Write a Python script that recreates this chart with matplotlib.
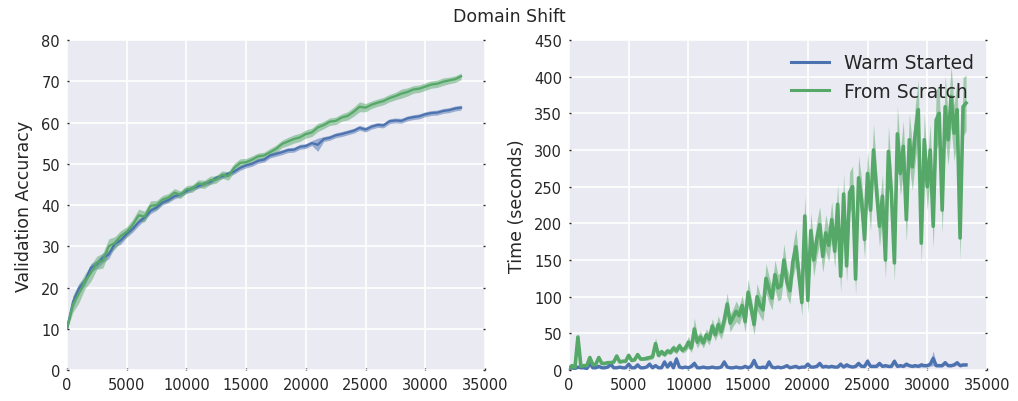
import matplotlib
matplotlib.use("Agg")
import matplotlib.pyplot as plt
import numpy as np

# Domain shift experiment: warm started vs from scratch training

ACC_STEP = 500
TIME_STEP = 250

# Validation accuracy, sampled every 500 steps
acc_warm = [
    10.0, 16.5, 19.8, 21.5, 24.8, 25.6, 27.2, 28.0, 30.6, 31.4,
    33.0, 34.2, 35.8, 37.0, 38.6, 39.4, 40.6, 41.2, 42.1, 42.6,
    43.4, 44.1, 44.6, 45.2, 45.6, 46.6, 47.0, 47.6, 48.1, 49.0,
    49.6, 50.0, 50.7, 51.0, 52.0, 52.4, 52.8, 53.3, 53.4, 54.1,
    54.3, 55.0, 54.6, 56.0, 56.3, 56.9, 57.2, 57.6, 58.0, 58.7,
    58.3, 59.0, 59.4, 59.3, 60.3, 60.5, 60.4, 61.0, 61.3, 61.5,
    62.0, 62.3, 62.4, 62.8, 63.0, 63.4, 63.6,
]
acc_warm_sd = [
    0.3, 1.5, 1.2, 1.0, 1.0, 1.0, 1.2, 1.0, 0.9, 0.9,
    0.8, 0.8, 0.8, 0.7, 0.7, 0.7, 0.6, 0.6, 0.6, 0.6,
    0.6, 0.6, 0.6, 0.6, 0.6, 0.6, 0.6, 0.6, 0.6, 0.6,
    0.6, 0.6, 0.6, 0.6, 0.6, 0.6, 0.6, 0.6, 0.6, 0.6,
    0.6, 0.6, 1.6, 0.6, 0.6, 0.6, 0.6, 0.6, 0.6, 0.6,
    0.6, 0.6, 0.6, 0.6, 0.6, 0.6, 0.6, 0.6, 0.6, 0.6,
    0.6, 0.6, 0.6, 0.6, 0.6, 0.6, 0.6,
]
acc_scratch = [
    10.0, 16.0, 18.5, 21.5, 23.5, 26.0, 26.5, 30.0, 30.8, 32.5,
    33.5, 35.2, 37.5, 37.2, 39.8, 40.0, 41.3, 41.8, 43.0, 42.5,
    43.8, 44.0, 45.2, 45.0, 46.0, 46.2, 47.4, 47.0, 49.0, 50.2,
    50.4, 51.0, 51.8, 52.0, 52.8, 53.6, 54.8, 55.4, 56.0, 56.4,
    57.2, 57.6, 58.8, 59.4, 60.2, 60.4, 61.2, 61.6, 62.6, 63.8,
    63.6, 64.3, 64.8, 65.2, 65.9, 66.4, 67.0, 67.4, 68.0, 68.2,
    68.7, 69.2, 69.4, 69.9, 70.2, 70.5, 71.2,
]
acc_scratch_sd = [
    0.3, 2.0, 2.2, 1.8, 2.0, 1.6, 1.8, 1.8, 1.5, 1.3,
    1.2, 1.3, 1.5, 1.3, 1.2, 1.1, 1.0, 1.0, 1.0, 0.9,
    0.9, 0.9, 0.9, 1.0, 1.0, 0.9, 0.9, 1.0, 1.1, 1.0,
    0.9, 0.9, 0.8, 0.8, 0.9, 0.9, 0.9, 1.0, 1.0, 1.0,
    1.0, 1.0, 1.0, 0.9, 0.9, 0.9, 0.9, 1.0, 1.1, 1.2,
    1.0, 0.9, 0.9, 0.9, 0.9, 0.9, 1.1, 1.0, 0.9, 0.9,
    0.9, 0.9, 0.9, 0.9, 0.8, 0.8, 0.8,
]

# Time per evaluation (seconds), sampled every 250 steps
time_warm = [
    2, 3, 2, 4, 3, 3, 2, 9, 3, 3,
    5, 3, 3, 4, 8, 3, 3, 4, 3, 3,
    8, 3, 3, 7, 3, 3, 4, 8, 3, 6,
    3, 3, 11, 4, 10, 3, 15, 4, 3, 4,
    3, 5, 9, 3, 3, 4, 3, 3, 4, 3,
    3, 4, 11, 4, 3, 3, 4, 3, 3, 5,
    3, 5, 13, 4, 3, 4, 3, 11, 4, 3,
    4, 3, 4, 6, 3, 4, 5, 3, 4, 4,
    8, 4, 4, 5, 9, 4, 5, 4, 5, 4,
    4, 8, 4, 7, 5, 4, 5, 9, 5, 5,
    12, 5, 5, 5, 9, 5, 6, 5, 5, 12,
    5, 6, 5, 8, 6, 5, 6, 5, 7, 6,
    6, 8, 16, 6, 6, 6, 10, 6, 6, 7,
    10, 6, 7, 7,
]
time_warm_sd = [
    1, 1, 1, 2, 1, 1, 1, 4, 1, 1,
    2, 1, 1, 1, 3, 1, 1, 1, 1, 1,
    3, 1, 1, 3, 1, 1, 1, 3, 1, 2,
    1, 1, 4, 1, 4, 1, 5, 1, 1, 1,
    1, 2, 4, 1, 1, 1, 1, 1, 1, 1,
    1, 1, 4, 1, 1, 1, 1, 1, 1, 2,
    1, 2, 4, 1, 1, 1, 1, 4, 1, 1,
    1, 1, 1, 2, 1, 1, 2, 1, 1, 1,
    3, 1, 1, 2, 3, 1, 2, 1, 2, 1,
    1, 3, 1, 3, 2, 1, 2, 3, 2, 2,
    5, 2, 2, 2, 3, 2, 2, 2, 2, 4,
    2, 2, 2, 3, 2, 2, 2, 2, 3, 2,
    2, 3, 10, 2, 2, 2, 3, 2, 2, 2,
    3, 2, 2, 2,
]
time_scratch = [
    2, 6, 3, 45, 5, 6, 6, 17, 7, 8,
    17, 9, 9, 10, 10, 11, 19, 11, 12, 12,
    20, 13, 14, 21, 15, 15, 16, 17, 18, 36,
    20, 25, 21, 26, 24, 30, 26, 33, 27, 30,
    38, 30, 56, 38, 45, 37, 48, 42, 60, 48,
    62, 52, 68, 90, 64, 72, 80, 74, 88, 66,
    106, 85, 62, 100, 88, 82, 125, 110, 98, 130,
    112, 115, 150, 120, 108, 148, 168, 130, 92, 210,
    95, 190, 150, 178, 198, 155, 187, 170, 205, 162,
    226, 128, 240, 142, 242, 250, 124, 262, 232, 178,
    268, 218, 300, 245, 196, 237, 150, 298, 241, 146,
    322, 268, 305, 205, 314, 277, 323, 355, 173, 314,
    250, 300, 196, 341, 350, 218, 359, 314, 373, 323,
    355, 180, 359, 364,
]
time_scratch_sd = [
    1, 3, 2, 5, 2, 2, 2, 3, 2, 2,
    3, 2, 2, 2, 2, 2, 3, 2, 2, 2,
    3, 2, 2, 3, 2, 2, 3, 3, 3, 8,
    3, 4, 3, 4, 3, 5, 4, 5, 4, 5,
    8, 6, 15, 8, 8, 7, 8, 8, 10, 8,
    12, 10, 12, 15, 12, 12, 14, 12, 14, 14,
    18, 15, 14, 18, 15, 15, 20, 18, 16, 20,
    18, 18, 22, 20, 18, 22, 25, 20, 18, 28,
    18, 25, 22, 24, 25, 22, 25, 22, 25, 22,
    28, 22, 28, 22, 28, 28, 22, 30, 28, 25,
    32, 28, 35, 30, 28, 30, 25, 35, 30, 25,
    38, 30, 35, 30, 35, 32, 38, 40, 28, 35,
    32, 35, 30, 40, 40, 32, 42, 35, 42, 38,
    40, 30, 40, 38,
]

BLUE = "#4C72B0"
GREEN = "#55A868"
TEXT = "#262626"

plt.rcParams["font.family"] = "DejaVu Sans"
plt.rcParams["text.color"] = TEXT
plt.rcParams["axes.labelcolor"] = TEXT


def style_axes(ax):
    ax.set_facecolor("#EAEAF2")
    for s in ax.spines.values():
        s.set_visible(False)
    ax.grid(True, color="white", linewidth=1.2)
    ax.set_axisbelow(True)
    ax.tick_params(axis="both", labelsize=10.5, colors=TEXT, direction="in",
                   length=1.5, width=1, pad=5)
    ax.tick_params(axis="y", right=True)


def draw(ax, x, mean, sd, color, lw, label=None):
    mean = np.asarray(mean, dtype=float)
    sd = np.asarray(sd, dtype=float)
    ax.fill_between(x, mean - sd, mean + sd, color=color, alpha=0.5, linewidth=0)
    ax.plot(x, mean, color=color, linewidth=lw, label=label)


fig = plt.figure(figsize=(10.18, 4.02), dpi=100)
ax1 = fig.add_axes([0.0658, 0.0771, 0.4106, 0.8209])
ax2 = fig.add_axes([0.5589, 0.0771, 0.4106, 0.8209])

x_acc = np.arange(len(acc_warm)) * ACC_STEP
x_time = np.arange(len(time_warm)) * TIME_STEP

style_axes(ax1)
draw(ax1, x_acc, acc_warm, acc_warm_sd, BLUE, 1.6)
draw(ax1, x_acc, acc_scratch, acc_scratch_sd, GREEN, 1.6)
ax1.set_xlim(0, 35000)
ax1.set_ylim(0, 80)
ax1.set_xticks(np.arange(0, 35001, 5000))
ax1.set_yticks(np.arange(0, 81, 10))
ax1.set_ylabel("Validation Accuracy", fontsize=12.5, labelpad=6)

style_axes(ax2)
draw(ax2, x_time, time_warm, time_warm_sd, BLUE, 2.4, "Warm Started")
draw(ax2, x_time, time_scratch, time_scratch_sd, GREEN, 2.6, "From Scratch")
ax2.set_xlim(0, 35000)
ax2.set_ylim(0, 450)
ax2.set_xticks(np.arange(0, 35001, 5000))
ax2.set_yticks(np.arange(0, 451, 50))
ax2.set_ylabel("Time (seconds)", fontsize=12.5, labelpad=6)
leg = ax2.legend(loc="upper right", frameon=False, fontsize=13.5, handlelength=2.0,
                 borderaxespad=0.3)
for line in leg.get_lines():
    line.set_linewidth(2.2)

fig.suptitle("Domain Shift", fontsize=12.5, y=0.958, va="center")

fig.savefig("out.png", dpi=100)
plt.close(fig)
